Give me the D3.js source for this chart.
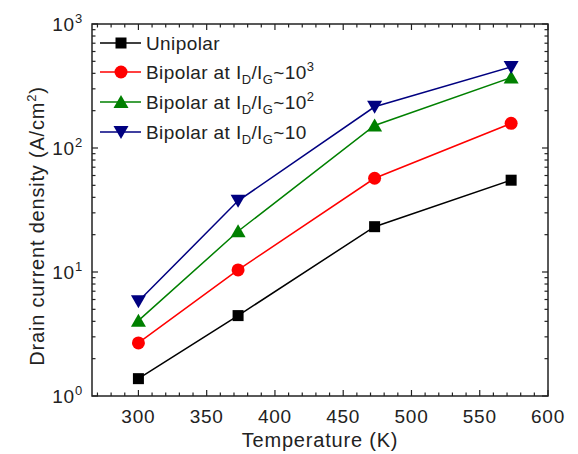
<!DOCTYPE html>
<html>
<head>
<meta charset="utf-8">
<script src="https://cdn.jsdelivr.net/npm/d3@7"></script>
<style>
  body { margin: 0; background: #fff; }
  text { font-family: Arial, "Liberation Sans", sans-serif; fill: #222; }
</style>
</head>
<body>
<svg id="svg" width="578" height="454"></svg>
<script>
// data
var temps = [300, 373, 473, 573];
var unipolar = [1.38, 4.45, 23.2, 55];
var bipolar1e3 = [2.68, 10.4, 57, 158];
var bipolar1e2 = [4.05, 21.3, 152, 370];
var bipolar10 = [5.8, 37.5, 215, 450];
var xTicks = [300, 350, 400, 450, 500, 550, 600];
var yTicks = [1, 10, 100, 1000];

var series = [
  { name: "Unipolar", sup: null, values: unipolar, color: "#000000", sym: "square" },
  { name: "Bipolar at ", sup: "3", values: bipolar1e3, color: "#ff0000", sym: "circle" },
  { name: "Bipolar at ", sup: "2", values: bipolar1e2, color: "#008000", sym: "up" },
  { name: "Bipolar at ", sup: "", values: bipolar10, color: "#000080", sym: "down" }
];

var pLeft = 92, pRight = 548, pTop = 24, pBottom = 396;
var svg = d3.select("#svg");

var x = d3.scaleLinear().domain([266, 600]).range([pLeft, pRight]);
var y = d3.scaleLog().domain([1, 1000]).range([pBottom, pTop]);

// minor ticks
var xMinor = d3.range(270, 601, 10);
var yMinor = [];
[1, 10, 100].forEach(function(d) { for (var k = 2; k <= 9; k++) yMinor.push(d * k); });

var g = svg.append("g");
function tickLine(x1, y1, x2, y2) {
  g.append("line").attr("x1", x1).attr("y1", y1).attr("x2", x2).attr("y2", y2)
    .attr("stroke", "#222").attr("stroke-width", 1.2);
}
xMinor.forEach(function(d) {
  var big = d % 50 === 0, len = big ? 6 : 3.5;
  tickLine(x(d), pBottom, x(d), pBottom - len);
  tickLine(x(d), pTop, x(d), pTop + len);
});
yMinor.concat(yTicks).forEach(function(d) {
  var big = yTicks.indexOf(d) >= 0, len = big ? 6 : 3.5;
  tickLine(pLeft, y(d), pLeft + len, y(d));
  tickLine(pRight, y(d), pRight - len, y(d));
});

// frame
svg.append("rect").attr("x", pLeft).attr("y", pTop).attr("width", pRight - pLeft).attr("height", pBottom - pTop)
  .attr("fill", "none").attr("stroke", "#222").attr("stroke-width", 1.5);

// tick labels
svg.selectAll(".xl").data(xTicks).enter().append("text")
  .attr("x", function(d) { return x(d); }).attr("y", 423)
  .attr("text-anchor", "middle").style("font-size", "19px").style("letter-spacing", "0.8px")
  .text(function(d) { return d; });

yTicks.forEach(function(d, i) {
  var t = svg.append("text").attr("x", 83).attr("y", y(d) + 7)
    .attr("text-anchor", "end").style("font-size", "19px").style("letter-spacing", "0.8px");
  t.append("tspan").text("10");
  t.append("tspan").attr("dy", -8).style("font-size", "13px").text(i);
});

// axis titles
svg.append("text").attr("x", 320).attr("y", 447)
  .attr("text-anchor", "middle").style("font-size", "20px").style("letter-spacing", "0.8px")
  .text("Temperature (K)");
var yl = svg.append("text").attr("transform", "translate(44,226) rotate(-90)")
  .attr("text-anchor", "middle").style("font-size", "20px").style("letter-spacing", "0.8px");
yl.append("tspan").text("Drain current density (A/cm");
yl.append("tspan").attr("dy", -8).style("font-size", "13px").text("2");
yl.append("tspan").attr("dy", 8).text(")");

function marker(sel, s) {
  if (s.sym === "square") {
    sel.append("rect").attr("x", -5.5).attr("y", -5.5).attr("width", 11).attr("height", 11).attr("fill", s.color);
  } else if (s.sym === "circle") {
    sel.append("circle").attr("r", 6.5).attr("fill", s.color);
  } else if (s.sym === "up") {
    sel.append("path").attr("d", "M0,-7 L7.5,6 L-7.5,6 Z").attr("fill", s.color);
  } else {
    sel.append("path").attr("d", "M0,7 L7.5,-6 L-7.5,-6 Z").attr("fill", s.color);
  }
}

var line = d3.line().x(function(d, i) { return x(temps[i]); }).y(function(d) { return y(d); });

series.forEach(function(s) {
  svg.append("path").attr("d", line(s.values)).attr("fill", "none")
    .attr("stroke", s.color).attr("stroke-width", 1.5);
  s.values.forEach(function(v, i) {
    var m = svg.append("g").attr("transform", "translate(" + x(temps[i]) + "," + y(v) + ")");
    marker(m, s);
  });
});

// legend
var legY = [43, 72, 102, 132];
series.forEach(function(s, i) {
  var lg = svg.append("g").attr("transform", "translate(0," + legY[i] + ")");
  lg.append("line").attr("x1", 100).attr("x2", 141).attr("stroke", s.color).attr("stroke-width", 1.5);
  var m = lg.append("g").attr("transform", "translate(121,0)");
  marker(m, s);
  var t = lg.append("text").attr("x", 146).attr("y", 7).style("font-size", "19px").style("letter-spacing", "0.4px");
  t.append("tspan").text(s.name);
  if (s.sup !== null) {
    t.append("tspan").text("I");
    t.append("tspan").attr("dy", 5).style("font-size", "13px").text("D");
    t.append("tspan").attr("dy", -5).text("/I");
    t.append("tspan").attr("dy", 5).style("font-size", "13px").text("G");
    t.append("tspan").attr("dy", -5).text("~10");
    if (s.sup) t.append("tspan").attr("dy", -8).style("font-size", "13px").text(s.sup);
  }
});
</script>
</body>
</html>
